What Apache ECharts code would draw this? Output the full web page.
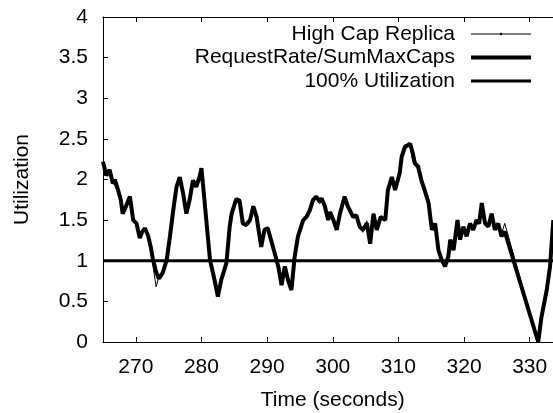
<!DOCTYPE html>
<html>
<head>
<meta charset="utf-8">
<script src="https://cdn.jsdelivr.net/npm/echarts@6/dist/echarts.min.js"></script>
<style>
  html, body { margin: 0; padding: 0; background: #fff; }
  #chart { width: 553px; height: 413px; }
</style>
</head>
<body>
<div id="chart"></div>
<script>
// 时间轴（秒）与两条利用率曲线
const times = [
  265, 265.5, 266, 266.5, 266.8, 267.3, 267.7, 268, 268.5, 269.1,
  269.6, 270.1, 270.6, 271, 271.4, 271.9, 272.3, 272.6, 273.1, 273.5,
  274.1, 274.7, 275.2, 275.7, 276.2, 276.7, 277.2, 277.7, 278.2, 278.7,
  279.2, 279.7, 280.0, 281.3, 282, 282.5, 283, 283.8, 284.3, 284.6,
  285.1, 285.3, 285.8, 286.3, 286.8, 287.4, 287.9, 288.4, 289.1, 289.6,
  290.1, 290.9, 291.7, 292.2, 292.7, 293.2, 293.7, 294.0, 294.2, 294.7,
  295.5, 296, 296.5, 297, 297.5, 298, 298.3, 298.8, 299.3, 299.6,
  300.1, 300.6, 301.1, 301.8, 302.3, 303.1, 303.6, 304.1, 304.6, 305.2,
  305.7, 306.2, 306.7, 307.3, 308, 308.4, 309, 309.5, 310.2, 310.5,
  311, 311.8, 312.2, 312.5, 313, 313.5, 314, 314.6, 315.1, 315.6,
  316.1, 316.6, 317.1, 317.6, 317.9, 318.4, 319, 319.4, 319.9, 320.4,
  320.9, 321.4, 321.9, 322.3, 322.7, 323.2, 323.7, 324.2, 324.7, 325.2,
  325.7, 326.2, 331.3, 331.8, 332.6, 333.1, 333.6
];

const reqRate = [
  2.22, 2.05, 2.12, 1.95, 2.00, 1.87, 1.75, 1.58, 1.67, 1.79,
  1.50, 1.46, 1.28, 1.36, 1.40, 1.30, 1.16, 1.02, 0.86, 0.78,
  0.85, 1.01, 1.30, 1.62, 1.91, 2.03, 1.83, 1.58, 1.75, 1.99,
  1.91, 2.03, 2.14, 1.01, 0.76, 0.56, 0.76, 0.97, 1.42, 1.58,
  1.71, 1.76, 1.74, 1.46, 1.44, 1.50, 1.67, 1.54, 1.17, 1.38,
  1.40, 1.17, 0.93, 0.70, 0.93, 0.76, 0.64, 0.64, 1.05, 1.30,
  1.50, 1.54, 1.62, 1.75, 1.79, 1.73, 1.77, 1.67, 1.50, 1.60,
  1.50, 1.38, 1.58, 1.79, 1.67, 1.54, 1.56, 1.42, 1.38, 1.46,
  1.21, 1.58, 1.38, 1.54, 1.50, 1.87, 2.03, 1.87, 2.08, 2.28,
  2.40, 2.44, 2.32, 2.20, 2.16, 1.99, 1.87, 1.71, 1.38, 1.46,
  1.13, 1.01, 0.93, 1.05, 1.26, 1.13, 1.50, 1.26, 1.42, 1.30,
  1.46, 1.38, 1.50, 1.46, 1.71, 1.46, 1.42, 1.58, 1.38, 1.46,
  1.30, 1.36, 0.00, 0.31, 0.64, 0.93, 1.50
];

const highCap = [
  2.20, 2.08, 2.10, 1.97, 1.98, 1.85, 1.77, 1.60, 1.65, 1.77,
  1.52, 1.44, 1.30, 1.34, 1.38, 1.28, 1.10, 0.94, 0.68, 0.80,
  0.88, 1.05, 1.34, 1.66, 1.93, 2.01, 1.80, 1.61, 1.78, 1.96,
  1.93, 2.06, 2.12, 0.98, 0.72, 0.58, 0.80, 1.02, 1.46, 1.61,
  1.73, 1.74, 1.71, 1.48, 1.42, 1.53, 1.64, 1.51, 1.20, 1.36,
  1.42, 1.15, 0.90, 0.74, 0.90, 0.73, 0.67, 0.70, 1.10, 1.34,
  1.52, 1.57, 1.65, 1.72, 1.76, 1.70, 1.74, 1.64, 1.53, 1.57,
  1.47, 1.41, 1.61, 1.76, 1.64, 1.57, 1.53, 1.45, 1.35, 1.49,
  1.25, 1.55, 1.41, 1.51, 1.53, 1.83, 2.00, 1.90, 2.12, 2.32,
  2.43, 2.40, 2.22, 2.18, 2.12, 1.95, 1.84, 1.68, 1.42, 1.43,
  1.16, 0.97, 0.95, 1.08, 1.23, 1.16, 1.47, 1.29, 1.39, 1.33,
  1.43, 1.41, 1.47, 1.49, 1.68, 1.49, 1.45, 1.55, 1.41, 1.43,
  1.33, 1.46, 0.00, 0.28, 0.60, 0.90, 1.46
];

const fullLoad = [[265, 1], [335, 1]];

const xMin = 265, xMax = 335;
const yTicks = [0, 0.5, 1, 1.5, 2, 2.5, 3, 3.5, 4];

const FONT = 'Liberation Sans, Arial, sans-serif';
const pair = (xs, ys) => xs.map((x, i) => [x, ys[i]]);

const chart = echarts.init(document.getElementById('chart'));
chart.setOption({
  animation: false,
  backgroundColor: '#fff',
  textStyle: { fontFamily: FONT, color: '#000' },
  grid: { left: 103, right: -9.5, top: 17, bottom: 71, outerBoundsMode: 'none', containLabel: false },
  legend: {
    orient: 'vertical',
    align: 'right',
    right: 20,
    top: 23,
    padding: 0,
    itemGap: 1.5,
    itemWidth: 60,
    itemHeight: 3,
    itemStyle: { opacity: 0 },
    lineStyle: { width: 'inherit' },
    textStyle: { fontSize: 21, lineHeight: 22, color: '#000', fontFamily: FONT, padding: [0, 11, 0, 0] },
    data: [
      { name: 'High Cap Replica', itemStyle: { opacity: 1 } },
      'RequestRate/SumMaxCaps',
      '100% Utilization'
    ]
  },
  xAxis: [{
    type: 'value',
    min: xMin,
    max: xMax,
    name: 'Time (seconds)',
    nameLocation: 'middle',
    nameGap: 48,
    nameTextStyle: { fontSize: 21, color: '#000' },
    axisLine: { lineStyle: { color: '#000', width: 1 } },
    axisTick: { inside: true, length: 5, lineStyle: { color: '#000' } },
    axisLabel: { fontSize: 21, color: '#000', margin: 15, showMinLabel: false, showMaxLabel: false },
    splitLine: { show: false }
  }, {
    type: 'value',
    position: 'top',
    min: xMin,
    max: xMax,
    axisLine: { lineStyle: { color: '#000', width: 1 } },
    axisTick: { inside: true, length: 5, lineStyle: { color: '#000' } },
    axisLabel: { show: false },
    splitLine: { show: false }
  }],
  yAxis: {
    type: 'value',
    min: yTicks[0],
    max: yTicks[yTicks.length - 1],
    interval: 0.5,
    name: 'Utilization',
    nameLocation: 'middle',
    nameGap: 70,
    nameTextStyle: { fontSize: 21, color: '#000' },
    axisLine: { show: true, lineStyle: { color: '#000', width: 1 } },
    axisTick: { inside: true, length: 5, lineStyle: { color: '#000' } },
    axisLabel: { fontSize: 21, color: '#000', margin: 15 },
    splitLine: { show: false }
  },
  series: [{
    name: 'High Cap Replica',
    type: 'line',
    data: pair(times, highCap),
    symbol: 'none',
    itemStyle: { color: '#000' },
    lineStyle: { color: '#000', width: 1 },
    z: 3
  }, {
    name: 'RequestRate/SumMaxCaps',
    type: 'line',
    data: pair(times, reqRate),
    symbol: 'none',
    itemStyle: { color: '#000' },
    lineStyle: { color: '#000', width: 4 },
    z: 2
  }, {
    name: '100% Utilization',
    type: 'line',
    data: fullLoad,
    symbol: 'none',
    itemStyle: { color: '#000' },
    lineStyle: { color: '#000', width: 3 },
    z: 1
  }]
});
</script>
</body>
</html>
